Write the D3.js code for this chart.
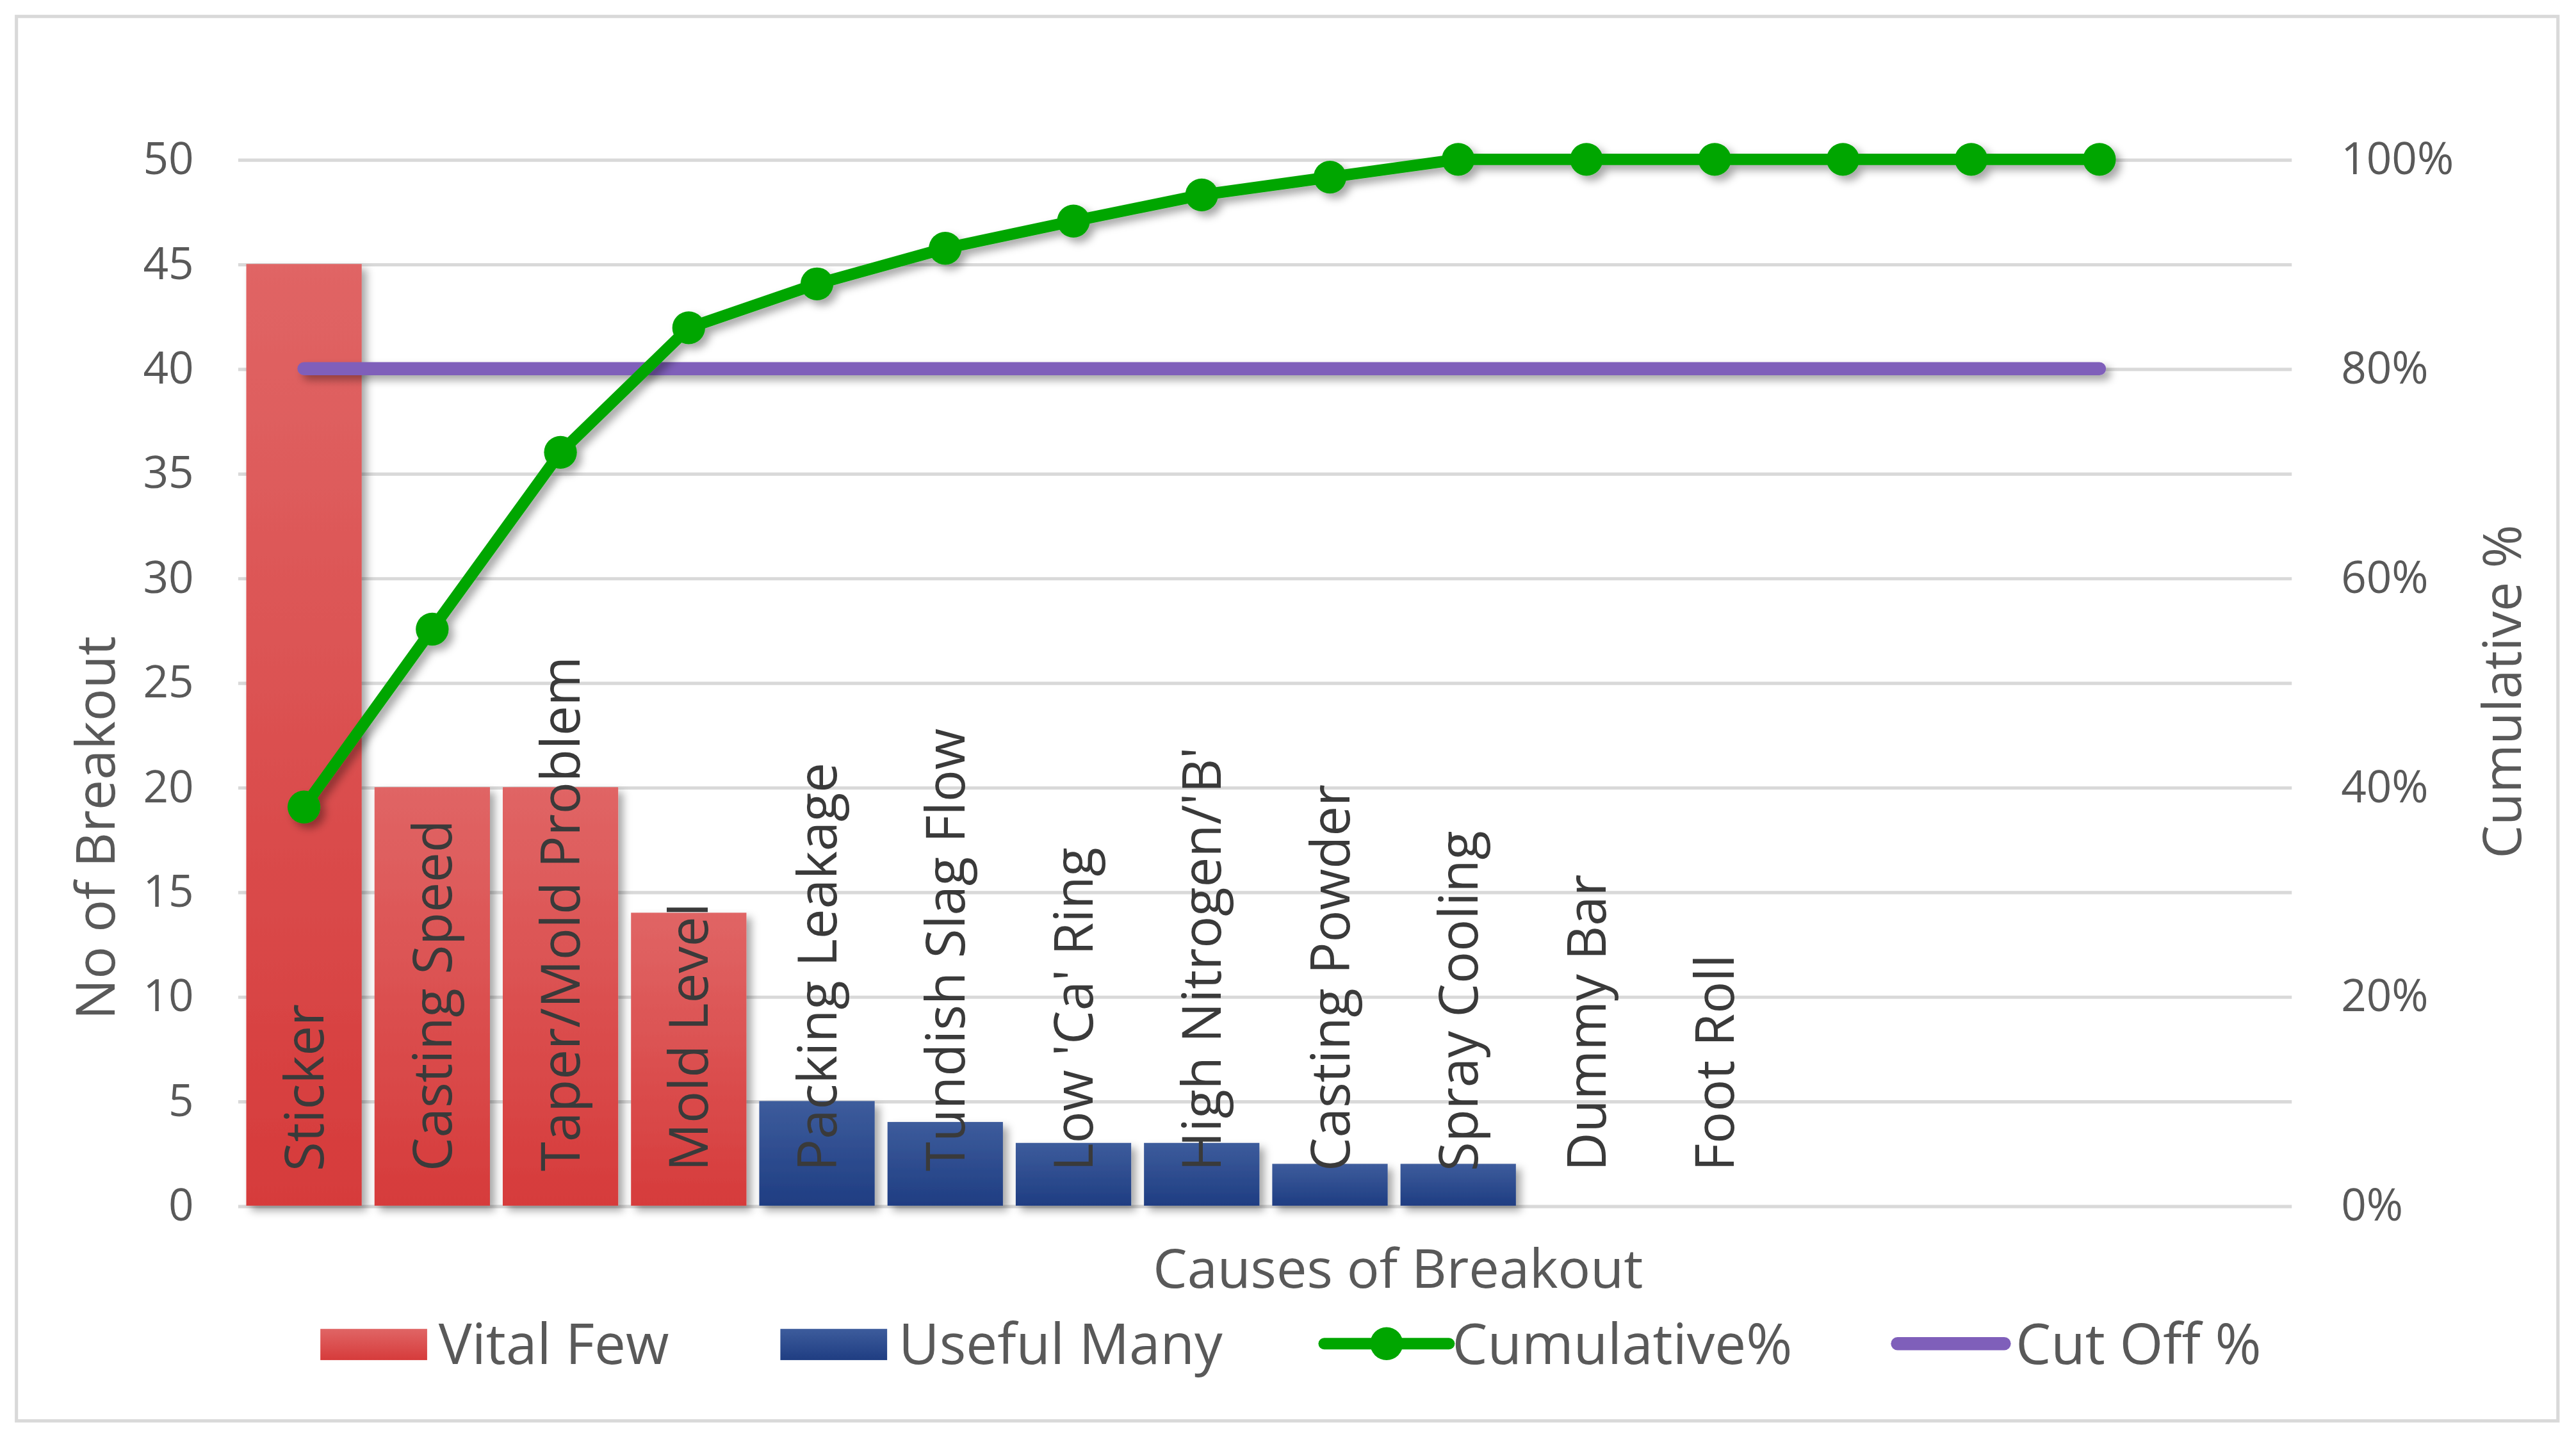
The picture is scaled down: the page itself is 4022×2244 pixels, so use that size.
<!DOCTYPE html>
<html lang="en">
<head>
<meta charset="UTF-8">
<title>Causes of Breakout</title>
<script src="https://d3js.org/d3.v7.min.js"></script>
<style>
  body { margin: 0; background: #fff; }
  svg { display: block; }
  text { font-family: "Open Sans", "Noto Sans", sans-serif; }
</style>
</head>
<body>
<svg id="chart"></svg>
<script>
// data
const causes = ["Sticker", "Casting Speed", "Taper/Mold Problem", "Mold Level",
  "Packing Leakage", "Tundish Slag Flow", "Low 'Ca' Ring", "High Nitrogen/'B'",
  "Casting Powder", "Spray Cooling", "Dummy Bar", "Foot Roll", "", "", "", ""];
const counts = [45, 20, 20, 14, 5, 4, 3, 3, 2, 2, 0, 0];
const group = ["vital", "vital", "vital", "vital", "useful", "useful", "useful",
  "useful", "useful", "useful", "useful", "useful"];
const cumulative = [38.1, 55.1, 72.0, 83.9, 88.1, 91.5, 94.1, 96.6, 98.3, 100, 100, 100, 100, 100, 100];
const cutOff = [80, 80, 80, 80, 80, 80, 80, 80, 80, 80, 80, 80, 80, 80, 80];
const leftTicks = [0, 5, 10, 15, 20, 25, 30, 35, 40, 45, 50];
const rightTicks = [0, 20, 40, 60, 80, 100];
const legendItems = [
  { key: "vital", label: "Vital Few" },
  { key: "useful", label: "Useful Many" },
  { key: "cum", label: "Cumulative%" },
  { key: "cut", label: "Cut Off %" }
];

const W = 1568, H = 874.8;
const svg = d3.select("#chart")
  .attr("width", 4022).attr("height", 2244)
  .attr("viewBox", `0 0 ${W} ${H}`);

const defs = svg.append("defs");
function grad(id, top, bottom) {
  const g = defs.append("linearGradient").attr("id", id)
    .attr("x1", 0).attr("y1", 0).attr("x2", 0).attr("y2", 1);
  g.append("stop").attr("offset", "0%").attr("stop-color", top);
  g.append("stop").attr("offset", "100%").attr("stop-color", bottom);
}
grad("gVital", "#e06565", "#d63b3b");
grad("gUseful", "#3d5c9c", "#1f3d82");
// user-space region so flat lines still get their shadow
defs.append("filter").attr("id", "shadow")
  .attr("filterUnits", "userSpaceOnUse")
  .attr("x", 0).attr("y", 0).attr("width", W).attr("height", H)
  .append("feDropShadow").attr("dx", 3).attr("dy", 3).attr("stdDeviation", 2.5)
  .attr("flood-color", "#000").attr("flood-opacity", 0.35);

// frame
svg.append("rect").attr("x", 10).attr("y", 10).attr("width", 1547).attr("height", 855)
  .attr("fill", "#fff").attr("stroke", "#d9d9d9").attr("stroke-width", 2);

const x = d3.scaleBand().domain(d3.range(causes.length)).range([146, 1395])
  .paddingInner(0.1).paddingOuter(0.05);
const y = d3.scaleLinear().domain([0, 50]).range([734, 97]);
const y2 = d3.scaleLinear().domain([0, 100]).range([734, 97]);

// gridlines + left axis
const left = svg.append("g").attr("transform", "translate(145,0)")
  .call(d3.axisLeft(y).tickValues(leftTicks).tickSize(-1250).tickPadding(27));
left.select(".domain").remove();
left.selectAll("line").attr("stroke", "#d9d9d9").attr("stroke-width", 2);
left.selectAll("text").attr("font-size", 27).attr("fill", "#595959");

const right = svg.append("g").attr("transform", "translate(1395,0)")
  .call(d3.axisRight(y2).tickValues(rightTicks).tickSize(0).tickPadding(30)
    .tickFormat(d => d + "%"));
right.select(".domain").remove();
right.selectAll("text").attr("font-size", 27).attr("fill", "#595959");

// bars
const color = { vital: "url(#gVital)", useful: "url(#gUseful)" };
svg.append("g").selectAll("rect").data(counts).join("rect")
  .attr("x", (d, i) => x(i))
  .attr("y", d => y(d))
  .attr("width", x.bandwidth())
  .attr("height", d => y(0) - y(d))
  .attr("fill", (d, i) => color[group[i]])
  .attr("filter", d => d > 0 ? "url(#shadow)" : null);

// category labels inside bars
svg.append("g").selectAll("text").data(causes).join("text")
  .attr("transform", (d, i) => `translate(${x(i) + x.bandwidth() / 2},713) rotate(-90)`)
  .attr("dy", "0.36em")
  .attr("font-size", 32.5)
  .attr("fill", "#3a3a3a")
  .text(d => d);

// cut off line
const cx = (d, i) => x(i) + x.bandwidth() / 2;
svg.append("path").datum(cutOff)
  .attr("d", d3.line().x(cx).y(d => y2(d)))
  .attr("fill", "none").attr("stroke", "#7f5fba").attr("stroke-width", 8)
  .attr("stroke-linecap", "round").attr("filter", "url(#shadow)");

// cumulative line
const cum = svg.append("g").attr("filter", "url(#shadow)");
cum.append("path").datum(cumulative)
  .attr("d", d3.line().x(cx).y(d => y2(d)))
  .attr("fill", "none").attr("stroke", "#00a600").attr("stroke-width", 7)
  .attr("stroke-linejoin", "round");
cum.selectAll("circle").data(cumulative).join("circle")
  .attr("cx", cx).attr("cy", d => y2(d)).attr("r", 10)
  .attr("fill", "#00a600");

// axis titles
svg.append("text").attr("transform", "translate(58,504) rotate(-90)")
  .attr("text-anchor", "middle").attr("dy", "0.36em")
  .attr("font-size", 33).attr("fill", "#595959").text("No of Breakout");
svg.append("text").attr("transform", "translate(1523,421) rotate(-90)")
  .attr("text-anchor", "middle").attr("dy", "0.36em")
  .attr("font-size", 32).attr("fill", "#595959").text("Cumulative %");
svg.append("text").attr("x", 851).attr("y", 772)
  .attr("text-anchor", "middle").attr("dy", "0.36em")
  .attr("font-size", 33).attr("fill", "#595959").text("Causes of Breakout");

// legend
const legX = [195, 475, 806, 1152];
const leg = svg.append("g").selectAll("g").data(legendItems).join("g")
  .attr("transform", (d, i) => `translate(${legX[i]},818)`);
leg.each(function (d) {
  const g = d3.select(this);
  if (d.key === "vital" || d.key === "useful") {
    g.append("rect").attr("x", 0).attr("y", -9).attr("width", 65).attr("height", 19)
      .attr("fill", color[d.key]);
  } else if (d.key === "cum") {
    g.append("line").attr("x1", 0).attr("x2", 76).attr("stroke", "#00a600")
      .attr("stroke-width", 7).attr("stroke-linecap", "round");
    g.append("circle").attr("cx", 38).attr("r", 10).attr("fill", "#00a600");
  } else {
    g.append("line").attr("x1", 3).attr("x2", 68).attr("stroke", "#7f5fba")
      .attr("stroke-width", 8).attr("stroke-linecap", "round");
  }
  const tx = d.key === "cum" ? 78 : (d.key === "cut" ? 75 : 72);
  g.append("text").attr("x", tx).attr("dy", "0.36em")
    .attr("font-size", 34).attr("fill", "#595959").text(d.label);
});
</script>
</body>
</html>
